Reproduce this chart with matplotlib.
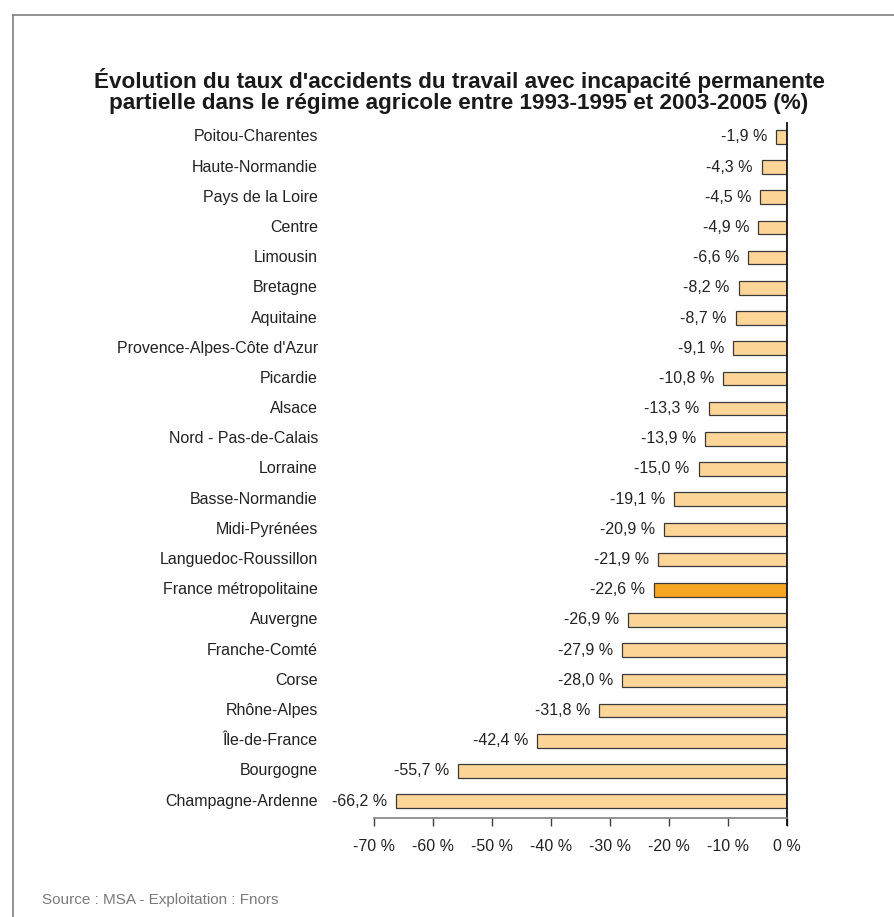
import numpy as np
import matplotlib.pyplot as plt
from matplotlib.lines import Line2D

plt.rcParams['font.family'] = ['Liberation Sans', 'DejaVu Sans']

regions = ["Poitou-Charentes", "Haute-Normandie", "Pays de la Loire", "Centre",
           "Limousin", "Bretagne", "Aquitaine", "Provence-Alpes-Côte d'Azur",
           "Picardie", "Alsace", "Nord - Pas-de-Calais", "Lorraine",
           "Basse-Normandie", "Midi-Pyrénées", "Languedoc-Roussillon",
           "France métropolitaine", "Auvergne", "Franche-Comté", "Corse",
           "Rhône-Alpes", "Île-de-France", "Bourgogne", "Champagne-Ardenne"]
values = [-1.9, -4.3, -4.5, -4.9, -6.6, -8.2, -8.7, -9.1, -10.8, -13.3, -13.9,
          -15.0, -19.1, -20.9, -21.9, -22.6, -26.9, -27.9, -28.0, -31.8, -42.4,
          -55.7, -66.2]
highlight = "France métropolitaine"
xticks = [-70, -60, -50, -40, -30, -20, -10, 0]

fig = plt.figure(figsize=(8.94, 9.17), dpi=100)
ax = fig.add_axes([374/894, 1-818/917, 413/894, 695/917])

pos = np.arange(len(regions))
colors = ['#f6a623' if r == highlight else '#fdd597' for r in regions]
ax.barh(pos, values, height=0.45, color=colors, edgecolor='#3a3a3a', linewidth=0.9)

for p, v, r in zip(pos, values, regions):
    ax.text(v - 1.5, p, ("%.1f %%" % v).replace('.', ','), ha='right', va='center',
            fontsize=11.5, color='#222222')
    ax.text(-79.5, p, r, ha='right', va='center', fontsize=11.5, color='#222222')

ax.set_xlim(-70, 0)
ax.set_ylim(22.56, -0.46)
ax.set_xticks(xticks)
ax.set_xticklabels(["%d %%" % t for t in xticks], fontsize=11.5, color='#222222')
ax.set_yticks([])
for s in ['top', 'right', 'left']:
    ax.spines[s].set_visible(False)
ax.spines['bottom'].set_color('#808080')
ax.spines['bottom'].set_linewidth(1.2)
ax.tick_params(axis='x', direction='out', length=6, width=1, color='#404040', pad=9)
ax.axvline(0, ymin=-0.01, ymax=1, color='#111111', linewidth=1.3, clip_on=False)

fig.text(459/894, 1-91/917, "Évolution du taux d'accidents du travail avec incapacité permanente\n"
         "partielle dans le régime agricole entre 1993-1995 et 2003-2005 (%)",
         ha='center', va='center', fontsize=16.2, fontweight='bold', color='#1a1a1a',
         linespacing=1.0)
fig.text(42/894, 1-900/917, "Source : MSA - Exploitation : Fnors", ha='left', va='center',
         fontsize=11, color='#7a7a7a')

fig.add_artist(Line2D([13/894, 13/894], [0, 1-15/917], color='#808080', linewidth=1.2))
fig.add_artist(Line2D([13/894, 1], [1-15/917, 1-15/917], color='#808080', linewidth=1.2))

fig.savefig('out.png', dpi=100)
